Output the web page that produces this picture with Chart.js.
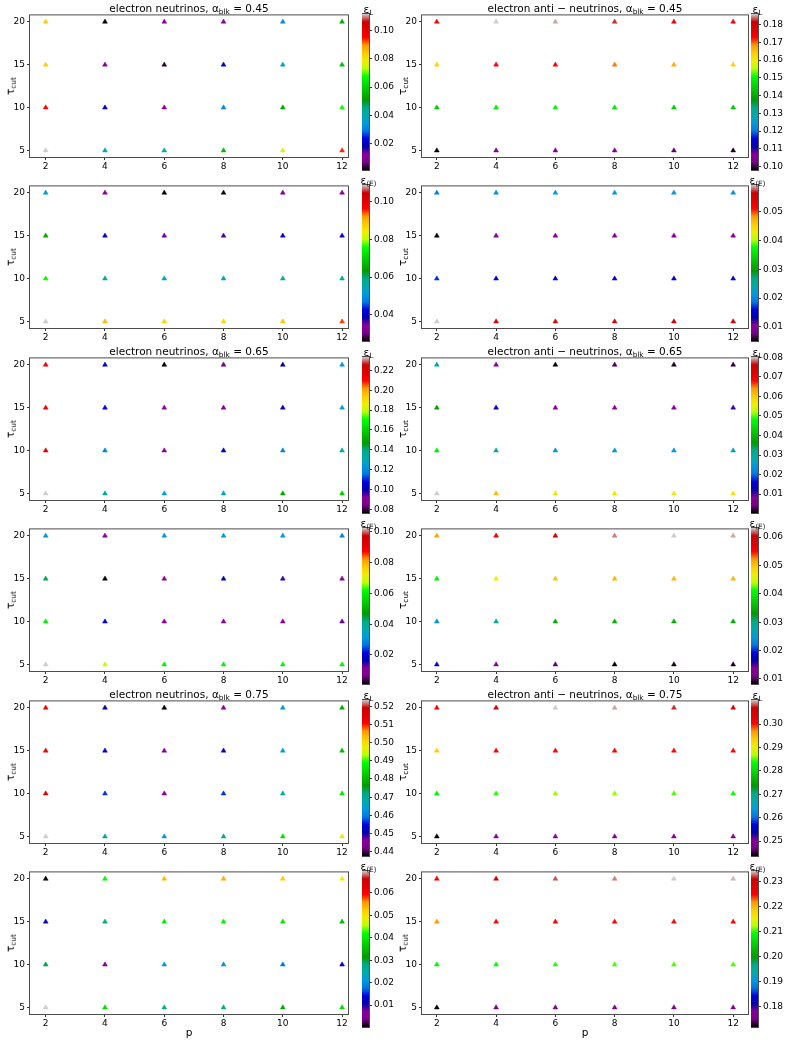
<!DOCTYPE html>
<html>
<head>
<meta charset="utf-8">
<script src="https://cdn.jsdelivr.net/npm/chart.js@4.4.0/dist/chart.umd.min.js"></script>
<style>
  body { margin: 0; background: #fff; }
  #fig { position: relative; width: 789px; height: 1042px; font-family: "DejaVu Sans", sans-serif; color: #000; overflow: hidden; }
  canvas { position: absolute; }
  .lbl { position: absolute; white-space: nowrap; line-height: 1; transform: translate(-50%, -50%); }
  .lbl .s { font-size: 70%; position: relative; top: 0.3em; }
</style>
</head>
<body>
<div id="fig"></div>
<script>
// axes values
const pValues = [2, 4, 6, 8, 10, 12];
const tauValues = [20, 15, 10, 5];
const pTicks = [2, 4, 6, 8, 10, 12];
const tauTicks = [5, 10, 15, 20];

// rows: tau = 20, 15, 10, 5 ; columns: p = 2..12
const nuL_045 = [
  [0.084, 0.001, 0.012, 0.012, 0.032, 0.054],
  [0.084, 0.012, 0.003, 0.020, 0.038, 0.056],
  [0.096, 0.021, 0.012, 0.031, 0.053, 0.068],
  [0.112, 0.042, 0.041, 0.056, 0.075, 0.094]
];
const antiL_045 = [
  [0.1737, 0.1860, 0.1851, 0.1825, 0.1746, 0.1746],
  [0.1631, 0.1728, 0.1728, 0.1693, 0.1666, 0.1631],
  [0.1438, 0.1490, 0.1500, 0.1482, 0.1446, 0.1438],
  [0.0980, 0.1050, 0.1050, 0.1050, 0.1015, 0.0989]
];
const nuE_045 = [
  [0.0526, 0.0343, 0.0260, 0.0268, 0.0343, 0.0343],
  [0.0650, 0.0410, 0.0351, 0.0360, 0.0410, 0.0418],
  [0.0758, 0.0575, 0.0534, 0.0534, 0.0567, 0.0575],
  [0.1090, 0.0899, 0.0874, 0.0874, 0.0891, 0.0949]
];
const antiE_045 = [
  [0.0192, 0.0208, 0.0213, 0.0213, 0.0213, 0.0208],
  [0.0051, 0.0100, 0.0100, 0.0100, 0.0100, 0.0100],
  [0.0170, 0.0154, 0.0143, 0.0148, 0.0148, 0.0148],
  [0.0592, 0.0554, 0.0538, 0.0554, 0.0560, 0.0565]
];
const nuL_065 = [
  [0.2129, 0.1061, 0.0763, 0.0842, 0.0999, 0.1234],
  [0.2129, 0.1077, 0.0920, 0.0904, 0.1030, 0.1250],
  [0.2160, 0.1187, 0.0920, 0.1030, 0.1187, 0.1328],
  [0.2334, 0.1360, 0.1250, 0.1265, 0.1500, 0.1595]
];
const antiL_065 = [
  [0.0299, 0.0083, 0.0003, 0.0027, 0.0011, 0.0019],
  [0.0370, 0.0147, 0.0083, 0.0083, 0.0083, 0.0107],
  [0.0466, 0.0307, 0.0243, 0.0243, 0.0243, 0.0251],
  [0.0802, 0.0618, 0.0570, 0.0570, 0.0570, 0.0570]
];
const nuE_065 = [
  [0.0316, 0.0113, 0.0316, 0.0316, 0.0316, 0.0285],
  [0.0437, 0.0011, 0.0113, 0.0173, 0.0143, 0.0113],
  [0.0600, 0.0204, 0.0113, 0.0113, 0.0113, 0.0123],
  [0.1026, 0.0681, 0.0600, 0.0600, 0.0600, 0.0610]
];
const antiE_065 = [
  [0.0517, 0.0561, 0.0599, 0.0621, 0.0632, 0.0627],
  [0.0401, 0.0467, 0.0500, 0.0506, 0.0506, 0.0506],
  [0.0242, 0.0291, 0.0346, 0.0352, 0.0346, 0.0346],
  [0.0181, 0.0132, 0.0104, 0.0082, 0.0088, 0.0088]
];
const nuL_075 = [
  [0.5123, 0.4505, 0.4376, 0.4462, 0.4634, 0.4788],
  [0.5123, 0.4531, 0.4453, 0.4522, 0.4642, 0.4806],
  [0.5149, 0.4565, 0.4462, 0.4565, 0.4694, 0.4866],
  [0.5235, 0.4694, 0.4634, 0.4702, 0.4848, 0.4960]
];
const antiL_075 = [
  [0.3016, 0.3070, 0.3103, 0.3096, 0.3076, 0.3056],
  [0.2936, 0.3003, 0.3003, 0.3003, 0.3003, 0.3010],
  [0.2823, 0.2843, 0.2863, 0.2863, 0.2850, 0.2836],
  [0.2436, 0.2496, 0.2496, 0.2496, 0.2496, 0.2496]
];
const nuE_075 = [
  [0.0002, 0.0413, 0.0538, 0.0545, 0.0524, 0.0489],
  [0.0127, 0.0280, 0.0399, 0.0406, 0.0392, 0.0350],
  [0.0294, 0.0072, 0.0210, 0.0204, 0.0176, 0.0134],
  [0.0698, 0.0385, 0.0280, 0.0280, 0.0336, 0.0385]
];
const antiE_075 = [
  [0.2268, 0.2306, 0.2324, 0.2331, 0.2343, 0.2340],
  [0.2218, 0.2250, 0.2250, 0.2250, 0.2250, 0.2250],
  [0.2088, 0.2094, 0.2100, 0.2106, 0.2106, 0.2106],
  [0.1720, 0.1757, 0.1764, 0.1764, 0.1764, 0.1764]
];

// colorbar tick labels
const cbTicks_nuL_045 = [0.02, 0.04, 0.06, 0.08, 0.10];
const cbTicks_antiL_045 = [0.10, 0.11, 0.12, 0.13, 0.14, 0.15, 0.16, 0.17, 0.18];
const cbTicks_nuE_045 = [0.04, 0.06, 0.08, 0.10];
const cbTicks_antiE_045 = [0.01, 0.02, 0.03, 0.04, 0.05];
const cbTicks_nuL_065 = [0.08, 0.10, 0.12, 0.14, 0.16, 0.18, 0.20, 0.22];
const cbTicks_antiL_065 = [0.01, 0.02, 0.03, 0.04, 0.05, 0.06, 0.07, 0.08];
const cbTicks_nuE_065 = [0.02, 0.04, 0.06, 0.08, 0.10];
const cbTicks_antiE_065 = [0.01, 0.02, 0.03, 0.04, 0.05, 0.06];
const cbTicks_nuL_075 = [0.44, 0.45, 0.46, 0.47, 0.48, 0.49, 0.50, 0.51, 0.52];
const cbTicks_antiL_075 = [0.25, 0.26, 0.27, 0.28, 0.29, 0.30];
const cbTicks_nuE_075 = [0.01, 0.02, 0.03, 0.04, 0.05, 0.06];
const cbTicks_antiE_075 = [0.18, 0.19, 0.20, 0.21, 0.22, 0.23];

// nipy_spectral colormap segments (t, r, g, b)
const NIPY = [
  [0.00, 0, 0, 0], [0.05, 0.4667, 0, 0.5333], [0.10, 0.5333, 0, 0.6], [0.15, 0, 0, 0.6667],
  [0.20, 0, 0, 0.8667], [0.25, 0, 0.4667, 0.8667], [0.30, 0, 0.6, 0.8667], [0.35, 0, 0.6667, 0.6667],
  [0.40, 0, 0.6667, 0.5333], [0.45, 0, 0.6, 0], [0.50, 0, 0.7333, 0], [0.55, 0, 0.8667, 0],
  [0.60, 0, 1, 0], [0.65, 0.7333, 1, 0], [0.70, 0.9333, 0.9333, 0], [0.75, 1, 0.8, 0],
  [0.80, 1, 0.6, 0], [0.85, 1, 0, 0], [0.90, 0.8667, 0, 0], [0.95, 0.8, 0, 0], [1.00, 0.8, 0.8, 0.8]
];
function nipy(t) {
  t = Math.max(0, Math.min(1, t));
  let i = 0;
  while (i < NIPY.length - 2 && t > NIPY[i + 1][0]) i++;
  const a = NIPY[i], b = NIPY[i + 1];
  const f = (t - a[0]) / (b[0] - a[0]);
  const c = [1, 2, 3].map(k => Math.round(255 * (a[k] + (b[k] - a[k]) * f)));
  return `rgb(${c[0]},${c[1]},${c[2]})`;
}

const FONT = 'DejaVu Sans';
const fig = document.getElementById('fig');

const frame = {
  id: 'frame',
  afterDraw(chart) {
    const a = chart.chartArea, ctx = chart.ctx;
    ctx.save();
    ctx.strokeStyle = '#4d4d4d';
    ctx.lineWidth = 1;
    ctx.strokeRect(a.left - 0.5, a.top - 0.5, a.right - a.left + 1, a.bottom - a.top + 1);
    ctx.restore();
  }
};

function addCanvas(left, top, w, h) {
  const c = document.createElement('canvas');
  c.width = w; c.height = h;
  c.style.left = left + 'px'; c.style.top = top + 'px';
  c.style.width = w + 'px'; c.style.height = h + 'px';
  fig.appendChild(c);
  return c;
}
function addLabel(html, x, y, size, rotate) {
  const d = document.createElement('div');
  d.className = 'lbl';
  d.innerHTML = html;
  d.style.left = x + 'px'; d.style.top = y + 'px';
  d.style.fontSize = size + 'px';
  if (rotate) d.style.transform = 'translate(-50%, -50%) rotate(-90deg)';
  fig.appendChild(d);
}

const tickFont = { family: FONT, size: 9 };
const gridOpts = { display: true, drawOnChartArea: false, drawTicks: true, tickLength: 3, color: '#333' };

const panels = [
  { vals: nuL_045, cb: cbTicks_nuL_045, kind: 'electron neutrinos', a: '0.45', eps: 'L' },
  { vals: antiL_045, cb: cbTicks_antiL_045, kind: 'electron anti \u2212 neutrinos', a: '0.45', eps: 'L' },
  { vals: nuE_045, cb: cbTicks_nuE_045, eps: '\u27E8E\u27E9' },
  { vals: antiE_045, cb: cbTicks_antiE_045, eps: '\u27E8E\u27E9' },
  { vals: nuL_065, cb: cbTicks_nuL_065, kind: 'electron neutrinos', a: '0.65', eps: 'L' },
  { vals: antiL_065, cb: cbTicks_antiL_065, kind: 'electron anti \u2212 neutrinos', a: '0.65', eps: 'L' },
  { vals: nuE_065, cb: cbTicks_nuE_065, eps: '\u27E8E\u27E9' },
  { vals: antiE_065, cb: cbTicks_antiE_065, eps: '\u27E8E\u27E9' },
  { vals: nuL_075, cb: cbTicks_nuL_075, kind: 'electron neutrinos', a: '0.75', eps: 'L' },
  { vals: antiL_075, cb: cbTicks_antiL_075, kind: 'electron anti \u2212 neutrinos', a: '0.75', eps: 'L' },
  { vals: nuE_075, cb: cbTicks_nuE_075, eps: '\u27E8E\u27E9' },
  { vals: antiE_075, cb: cbTicks_antiE_075, eps: '\u27E8E\u27E9' }
];

// layout of the two columns
const cols = [
  { axL: 30, axW: 318, cbX: 362, xmin: 1.47, xmax: 12.2, ylabX: 10 },
  { axL: 422, axW: 326, cbX: 751, xmin: 1.5, xmax: 12.5, ylabX: 402 }
];
const AX_H = 143, CB_W = 7, CB_H = 156, Y_W = 30, PAD = 6, X_H = 16;

panels.forEach((pn, i) => {
  const row = Math.floor(i / 2), col = cols[i % 2];
  const top = Math.round(14 + row * 171.4);
  const flat = pn.vals.flat();
  const vmin = Math.min(...flat), vmax = Math.max(...flat);
  const pts = [], colors = [];
  tauValues.forEach((tau, r) => pValues.forEach((p, c) => {
    pts.push({ x: p, y: tau });
    colors.push(nipy((pn.vals[r][c] - vmin) / (vmax - vmin)));
  }));

  // scatter panel
  const c1 = addCanvas(col.axL - Y_W, top - PAD, Y_W + col.axW + PAD, PAD + AX_H + X_H);
  new Chart(c1, {
    type: 'scatter',
    data: { datasets: [{ data: pts, pointStyle: 'triangle', pointRadius: 2.8, pointBackgroundColor: colors, pointBorderColor: colors, pointBorderWidth: 0.5 }] },
    options: {
      animation: false, responsive: false,
      layout: { padding: { top: PAD, right: PAD, left: 0, bottom: 0 } },
      plugins: { legend: { display: false }, tooltip: { enabled: false } },
      scales: {
        x: {
          type: 'linear', min: col.xmin, max: col.xmax,
          afterFit: s => { s.height = X_H; },
          afterBuildTicks: s => { s.ticks = pTicks.map(v => ({ value: v })); },
          grid: gridOpts, border: { display: false },
          ticks: { font: tickFont, color: '#000', padding: 1, maxRotation: 0, autoSkip: false }
        },
        y: {
          type: 'linear', min: 4.25, max: 20.75,
          afterFit: s => { s.width = Y_W; },
          afterBuildTicks: s => { s.ticks = tauTicks.map(v => ({ value: v })); },
          grid: gridOpts, border: { display: false },
          ticks: { font: tickFont, color: '#000', padding: 2, autoSkip: false }
        }
      }
    },
    plugins: [frame]
  });

  // colorbar
  const c2 = addCanvas(col.cbX, top - 8, CB_W + 34, CB_H + 16);
  new Chart(c2, {
    type: 'bar',
    data: {
      labels: [''],
      datasets: [{
        data: [[vmin, vmax]], barPercentage: 1, categoryPercentage: 1, borderWidth: 0,
        backgroundColor: ctx => {
          const a = ctx.chart.chartArea;
          if (!a) return '#888';
          const g = ctx.chart.ctx.createLinearGradient(0, a.bottom, 0, a.top);
          NIPY.forEach(s => g.addColorStop(s[0], nipy(s[0])));
          return g;
        }
      }]
    },
    options: {
      animation: false, responsive: false,
      layout: { padding: { top: 8, bottom: 8, left: 0, right: 0 } },
      plugins: { legend: { display: false }, tooltip: { enabled: false } },
      scales: {
        x: { display: false },
        y: {
          position: 'right', min: vmin, max: vmax,
          afterFit: s => { s.width = 34; },
          afterBuildTicks: s => { s.ticks = pn.cb.map(v => ({ value: v })); },
          grid: gridOpts, border: { display: false },
          ticks: { font: tickFont, color: '#000', padding: 2, autoSkip: false, callback: v => v.toFixed(2) }
        }
      }
    },
    plugins: [frame]
  });

  // texts
  const cx = col.axL + col.axW / 2;
  if (pn.kind) addLabel(`${pn.kind}, \u03B1<span class="s">blk</span> = ${pn.a}`, cx, top - 6.5, 10.5);
  addLabel(`\u03C4<span class="s">cut</span>`, col.ylabX, top + AX_H / 2, 10.5, true);
  addLabel(`\u03B5<span class="s">${pn.eps}</span>`, col.cbX + CB_W / 2 + 3, top - 5, 10.5);
  if (row === 5) addLabel('p', cx, 1032, 10.5);
});
</script>
</body>
</html>
